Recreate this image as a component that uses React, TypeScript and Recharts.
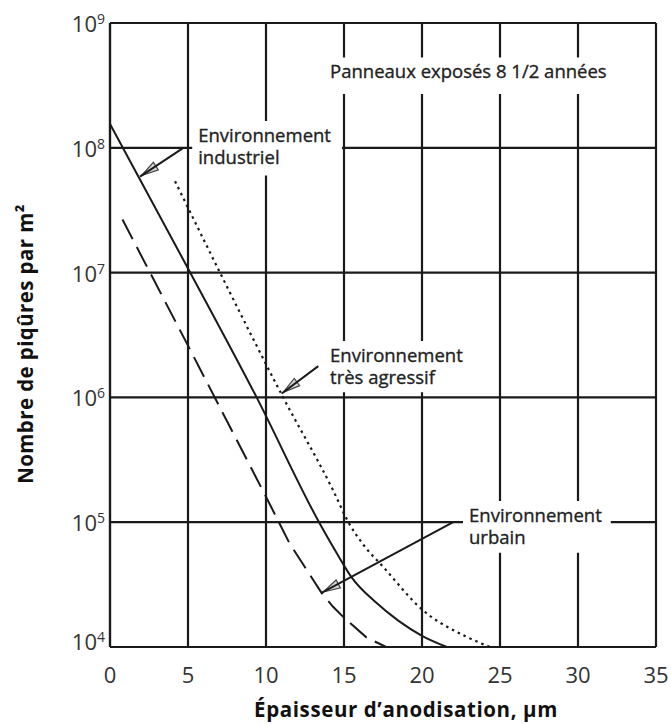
import { LineChart, Line, XAxis, YAxis, CartesianGrid, ReferenceArea, ReferenceLine } from 'recharts';

const xTicks = [0, 5, 10, 15, 20, 25, 30, 35];
const yTicks = [1e4, 1e5, 1e6, 1e7, 1e8, 1e9];

// Environnement industriel (trait plein)
const industrielX = [0, 5, 9.4, 13.4, 14.5, 15.5, 17, 18.5, 20, 21.6];
const industrielY = [1.55e8, 1.08e7, 1e6, 1e5, 5.75e4, 3.6e4, 2.3e4, 1.62e4, 1.23e4, 1e4];

// Environnement urbain (tirets)
const urbainX = [0.8, 5, 10, 11.5, 13.57, 14.3, 15.06, 16.45, 17.7];
const urbainY = [2.66e7, 2.6e6, 1.6e5, 6.8e4, 2.7e4, 2.1e4, 1.69e4, 1.19e4, 1e4];

// Environnement très agressif (pointillés)
const agressifX = [4.17, 7.05, 11.1, 14.3, 15.28, 16.24, 17.5, 20, 22.9, 24.36];
const agressifY = [5.4e7, 1e7, 1e6, 1.8e5, 1e5, 6.6e4, 4.4e4, 2e4, 1.2e4, 1e4];

const toPoints = (xs: number[], ys: number[]) => xs.map((x, i) => ({ x, y: ys[i] }));

// cadres de texte (coordonnées données) + flèches
const boxes = [
  { lines: ['Panneaux exposés 8 1/2 années'], x1: 13.72, x2: 32.7, y1: 2.7e8, y2: 5.3e8 },
  { lines: ['Environnement', 'industriel'], x1: 5.27, x2: 14.87, y1: 6.0e7, y2: 1.64e8 },
  { lines: ['Environnement', 'très agressif'], x1: 13.72, x2: 23.6, y1: 1.1e6, y2: 2.83e6 },
  { lines: ['Environnement', 'urbain'], x1: 22.63, x2: 32.1, y1: 5.7e4, y2: 1.48e5 },
];

const arrows = [
  { from: [4.7, 1e8], to: [2.03, 6.0e7] },
  { from: [13.35, 1.78e6], to: [11.11, 1.1e6] },
  { from: [22.0, 1e5], to: [13.67, 2.76e4] },
];

const FONT = '"Open Sans", "Noto Sans", sans-serif';
const INK = '#1a1a1a';

const ArrowShape = (props: any) => {
  const { x1, y1, x2, y2 } = props;
  const ang = Math.atan2(y2 - y1, x2 - x1);
  const len = 17;
  const half = 4.5;
  const bx = x2 - len * Math.cos(ang);
  const by = y2 - len * Math.sin(ang);
  const px = -Math.sin(ang) * half;
  const py = Math.cos(ang) * half;
  return (
    <g>
      <polygon
        points={`${x2},${y2} ${bx + px},${by + py} ${bx - px},${by - py}`}
        fill="#d8d8d8"
        stroke="#444"
        strokeWidth={1.2}
      />
      <line x1={x1} y1={y1} x2={x2 + 2 * Math.cos(ang)} y2={y2 + 2 * Math.sin(ang)} stroke={INK} strokeWidth={2} />
    </g>
  );
};

const boxLabel = (lines: string[]) => (props: any) => {
  const { x, y } = props.viewBox;
  return (
    <text x={x + 6} y={y + 21} fill="#222" fontSize={18.5} fontFamily={FONT} stroke="#222" strokeWidth={0.35}>
      {lines.map((l, i) => (
        <tspan key={i} x={x + 6} dy={i === 0 ? 0 : 22}>
          {l}
        </tspan>
      ))}
    </text>
  );
};

const XTick = ({ x, y, payload }: any) => (
  <text x={x} y={y + 28} textAnchor="middle" fill="#333" fontSize={22} fontFamily={FONT}>
    {payload.value}
  </text>
);

const YTick = ({ x, y, payload }: any) => {
  const exp = Math.round(Math.log10(payload.value));
  const lift = exp === 4 ? -6 : 0;
  return (
    <text x={x + 3} y={y + 9 + lift} textAnchor="end" fill="#333" fontSize={22} fontFamily={FONT}>
      10
      <tspan dy={-8} fontSize={14}>
        {exp}
      </tspan>
    </text>
  );
};

const YTitle = (props: any) => {
  const { y, height } = props.viewBox;
  const cx = 33;
  const cy = y + height / 2 + 9;
  return (
    <text
      x={cx}
      y={cy}
      transform={`rotate(-90, ${cx}, ${cy})`}
      textAnchor="middle"
      fill="#111"
      fontSize={20.5}
      fontWeight={700}
      letterSpacing={0.4}
      fontFamily={FONT}
    >
      Nombre de piqûres par m²
    </text>
  );
};

const XTitle = (props: any) => {
  const { x, y, width } = props.viewBox;
  return (
    <text
      x={x + width / 2 + 23}
      y={y + 70}
      textAnchor="middle"
      fill="#111"
      fontSize={20.5}
      fontWeight={700}
      letterSpacing={0.6}
      fontFamily={FONT}
    >
      Épaisseur d’anodisation, µm
    </text>
  );
};

export default function App() {
  return (
    <div style={{ position: 'absolute', left: 0, top: 0, width: 671, height: 724, background: '#fff' }}>
      <LineChart width={671} height={724} margin={{ top: 23, right: 15, left: 0, bottom: 0 }}>
        <CartesianGrid stroke={INK} strokeWidth={2.2} />
        <XAxis
          type="number"
          dataKey="x"
          domain={[0, 35]}
          ticks={xTicks}
          height={77}
          axisLine={{ stroke: INK, strokeWidth: 2.2 }}
          tickLine={false}
          tick={<XTick />}
          label={<XTitle />}
        />
        <YAxis
          type="number"
          scale="log"
          domain={[1e4, 1e9]}
          ticks={yTicks}
          allowDataOverflow
          width={110}
          axisLine={{ stroke: INK, strokeWidth: 2.2 }}
          tickLine={false}
          tick={<YTick />}
          label={<YTitle />}
        />
        <Line
          data={toPoints(industrielX, industrielY)}
          dataKey="y"
          type="monotone"
          stroke={INK}
          strokeWidth={2}
          dot={false}
          isAnimationActive={false}
        />
        <Line
          data={toPoints(urbainX, urbainY)}
          dataKey="y"
          type="linear"
          stroke={INK}
          strokeWidth={2}
          strokeDasharray="22 9"
          dot={false}
          isAnimationActive={false}
        />
        <Line
          data={toPoints(agressifX, agressifY)}
          dataKey="y"
          type="monotone"
          stroke={INK}
          strokeWidth={2.2}
          strokeDasharray="2.5 4"
          dot={false}
          isAnimationActive={false}
        />
        {boxes.map((b, i) => (
          <ReferenceArea
            key={i}
            x1={b.x1}
            x2={b.x2}
            y1={b.y1}
            y2={b.y2}
            fill="#fff"
            fillOpacity={1}
            stroke="none"
            label={boxLabel(b.lines)}
          />
        ))}
        {arrows.map((a, i) => (
          <ReferenceLine
            key={i}
            segment={[
              { x: a.from[0], y: a.from[1] },
              { x: a.to[0], y: a.to[1] },
            ]}
            ifOverflow="visible"
            shape={ArrowShape}
          />
        ))}
      </LineChart>
    </div>
  );
}
